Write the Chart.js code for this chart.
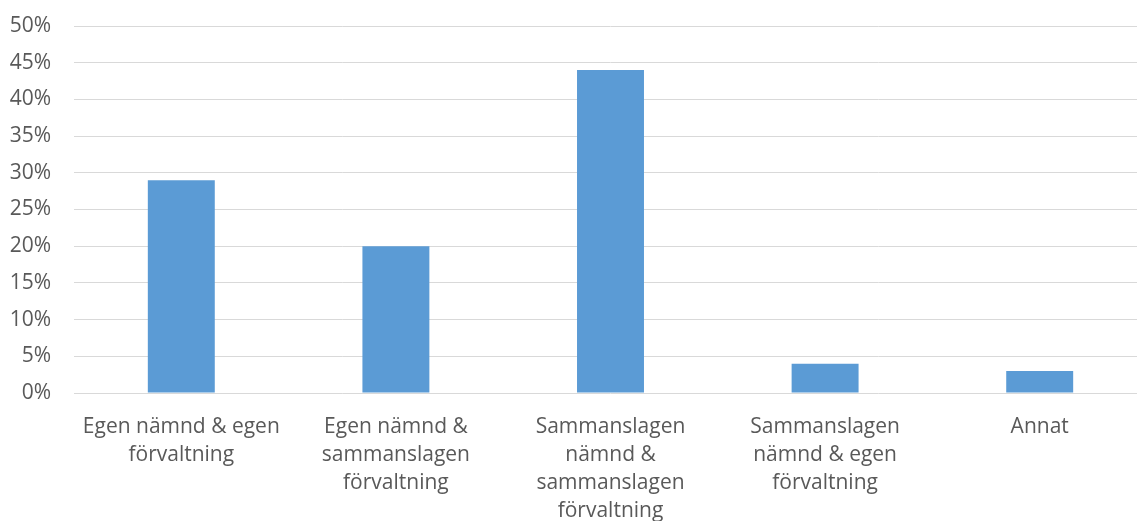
<!DOCTYPE html>
<html>
<head>
<meta charset="utf-8">
<script src="https://cdn.jsdelivr.net/npm/chart.js@4"></script>
<style>
html,body{margin:0;padding:0;overflow:hidden;background:#fff;}
#wrap{width:1147px;height:521px;}
</style>
</head>
<body>
<div id="wrap"><canvas id="c" width="1147" height="521"></canvas></div>
<script>
const categories = [
  ["Egen nämnd & egen", "förvaltning"],
  ["Egen nämnd &", "sammanslagen", "förvaltning"],
  ["Sammanslagen", "nämnd &", "sammanslagen", "förvaltning"],
  ["Sammanslagen", "nämnd & egen", "förvaltning"],
  ["Annat"]
];
const values = [29, 20, 44, 4, 3];
const yMax = 50;
const yStep = 5;

new Chart(document.getElementById('c'), {
  type: 'bar',
  data: {
    labels: categories,
    datasets: [{
      data: values,
      backgroundColor: '#5B9BD5',
      barPercentage: 0.312,
      categoryPercentage: 1
    }]
  },
  options: {
    responsive: false,
    animation: false,
    devicePixelRatio: 1,
    layout: { padding: { top: 26, right: 0, bottom: 0, left: 0 } },
    plugins: { legend: { display: false }, tooltip: { enabled: false } },
    scales: {
      x: {
        offset: true,
        grid: { display: false, drawTicks: false },
        border: { display: false },
        ticks: {
          color: '#595959',
          font: { family: 'Open Sans', size: 21, lineHeight: 1.333 },
          padding: 20,
          maxRotation: 0,
          autoSkip: false
        },
        afterFit: s => { s.height = 128; s.paddingLeft = 0; s.paddingRight = 0; }
      },
      y: {
        min: 0, max: yMax,
        grid: { color: '#d9d9d9', lineWidth: 1, drawTicks: false },
        border: { display: false },
        ticks: {
          stepSize: yStep,
          color: '#595959',
          font: { family: 'Open Sans', size: 21 },
          padding: 23,
          callback: v => v + '%'
        },
        afterFit: s => { s.width = 74; s.paddingTop = 0; s.paddingBottom = 0; }
      }
    }
  }
});
</script>
</body>
</html>
